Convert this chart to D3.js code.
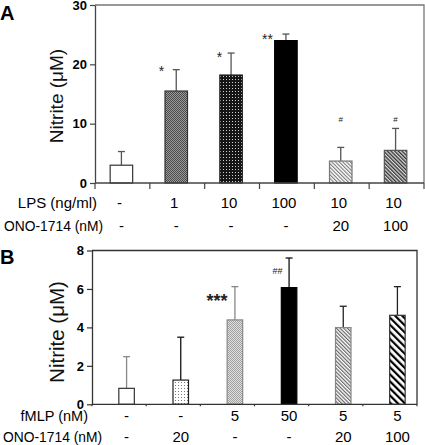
<!DOCTYPE html>
<html><head><meta charset="utf-8">
<script src="https://cdn.jsdelivr.net/npm/d3@7"></script>
<style>body{margin:0;background:#fff}svg{display:block;font-family:Arial,"Liberation Sans",sans-serif}</style>
</head><body><svg id="c" width="425" height="445"></svg>
<script>
// ---- Data ----
const lpsLabels = ["-", "1", "10", "100", "10", "10"];
const onoLabelsA = ["-", "-", "-", "-", "20", "100"];
const nitriteA = [3.0, 15.5, 18.2, 24.0, 3.7, 5.5];
const errorA = [2.3, 3.6, 3.7, 1.1, 2.3, 3.7];
const sigA = ["", "*", "*", "**", "#", "#"];
const ticksA = [0, 10, 20, 30];

const fmlpLabels = ["-", "-", "5", "50", "5", "5"];
const onoLabelsB = ["-", "20", "-", "-", "20", "100"];
const nitriteB = [0.83, 1.26, 4.39, 6.07, 3.99, 4.63];
const errorB = [1.65, 2.23, 1.73, 1.54, 1.11, 1.49];
const sigB = ["", "", "***", "##", "", ""];
const ticksB = [0, 2, 4, 6, 8];

const svg = d3.select("#c");
const defs = svg.append("defs");

function checker(id, bg, fg, size) {
  const p = defs.append("pattern").attr("id", id).attr("patternUnits", "userSpaceOnUse")
    .attr("width", size * 2).attr("height", size * 2);
  p.append("rect").attr("width", size * 2).attr("height", size * 2).attr("fill", bg);
  p.append("rect").attr("width", size).attr("height", size).attr("fill", fg);
  p.append("rect").attr("x", size).attr("y", size).attr("width", size).attr("height", size).attr("fill", fg);
}
function dots(id, bg, fg, step) {
  const p = defs.append("pattern").attr("id", id).attr("patternUnits", "userSpaceOnUse")
    .attr("width", step).attr("height", step);
  p.append("rect").attr("width", step).attr("height", step).attr("fill", bg);
  p.append("rect").attr("x", 1).attr("y", 1).attr("width", 1).attr("height", 1).attr("fill", fg);
}
function hatch(id, bg, fg, step, lw) {
  const p = defs.append("pattern").attr("id", id).attr("patternUnits", "userSpaceOnUse")
    .attr("width", step).attr("height", step).attr("patternTransform", "rotate(-45)");
  p.append("rect").attr("width", step).attr("height", step).attr("fill", bg);
  p.append("rect").attr("width", lw).attr("height", step).attr("fill", fg);
}
checker("pA2", "#9a9a9a", "#4a4a4a", 1);
dots("pA3", "#151515", "#d0d0d0", 3);
hatch("pA5", "#ffffff", "#777", 2.6, 1.1);
hatch("pA6", "#d8d8d8", "#333", 2.6, 1.3);
dots("pB2", "#ffffff", "#777", 3);
checker("pB3", "#e0e0e0", "#a0a0a0", 1);
hatch("pB5", "#ffffff", "#666", 2.6, 1.2);
hatch("pB6", "#ffffff", "#000", 5, 2.2);

const fillsA = ["#fff", "url(#pA2)", "url(#pA3)", "#000", "url(#pA5)", "url(#pA6)"];
const strokeA = ["#333", "#333", "#222", "#000", "#777", "#555"];
const fillsB = ["#fff", "url(#pB2)", "url(#pB3)", "#000", "url(#pB5)", "url(#pB6)"];
const strokeB = ["#333", "#222", "#888", "#000", "#888", "#333"];
const errColA = ["#555", "#555", "#555", "#555", "#555", "#555"];
const errColB = ["#888", "#111", "#888", "#111", "#222", "#222"];

function panel(o) {
  const g = svg.append("g");
  const x = d3.scaleBand().domain(d3.range(o.vals.length)).range([o.left, o.right]).padding(0);
  const y = d3.scaleLinear().domain([0, o.ymax]).range([o.bottom, o.top]);
  const cx = i => x(i) + x.bandwidth() / 2 + o.off;

  // frame
  g.append("path").attr("d", `M${o.left},${o.top}H${o.right}V${o.bottom}`)
    .attr("fill", "none").attr("stroke", o.frameCol).attr("stroke-width", 1.3);

  // error bars
  const eb = g.selectAll(".eb").data(o.vals).enter().append("g");
  eb.append("line").attr("x1", (d, i) => cx(i)).attr("x2", (d, i) => cx(i))
    .attr("y1", d => y(d)).attr("y2", (d, i) => y(d + o.errs[i]))
    .attr("stroke", (d, i) => o.errCol[i]).attr("stroke-width", 1.3);
  eb.append("line").attr("x1", (d, i) => cx(i) - o.cap).attr("x2", (d, i) => cx(i) + o.cap)
    .attr("y1", (d, i) => y(d + o.errs[i])).attr("y2", (d, i) => y(d + o.errs[i]))
    .attr("stroke", (d, i) => o.errCol[i]).attr("stroke-width", 1.3);

  // bars
  g.selectAll(".bar").data(o.vals).enter().append("rect")
    .attr("x", (d, i) => cx(i) - o.bw / 2).attr("width", o.bw)
    .attr("y", d => y(d)).attr("height", d => y(0) - y(d))
    .attr("fill", (d, i) => o.fills[i]).attr("stroke", (d, i) => o.strokes[i]).attr("stroke-width", 1.2);

  // y axis
  const ya = g.append("g").attr("transform", `translate(${o.left},0)`)
    .call(d3.axisLeft(y).tickValues(o.ticks).tickSize(5).tickSizeOuter(0).tickPadding(3));
  ya.select(".domain").attr("stroke", o.axisCol).attr("stroke-width", 1.3);
  ya.selectAll(".tick line").attr("stroke", o.axisCol).attr("stroke-width", 1.2);
  ya.selectAll(".tick text").attr("font-size", 13).attr("font-weight", "bold").attr("fill", "#000")
    .attr("font-family", "Arial, 'Liberation Sans', sans-serif");

  // x axis with boundary ticks
  const xa = g.append("g");
  xa.append("line").attr("x1", o.left).attr("x2", o.right).attr("y1", o.bottom).attr("y2", o.bottom)
    .attr("stroke", o.axisCol).attr("stroke-width", 1.3);
  const bounds = d3.range(o.vals.length + 1).map(i => o.left + i * x.step());
  xa.selectAll(".xt").data(bounds).enter().append("line")
    .attr("x1", d => d).attr("x2", d => d).attr("y1", o.bottom).attr("y2", o.bottom + o.xtick)
    .attr("stroke", o.axisCol).attr("stroke-width", 1.2);

  // significance marks
  o.sig.forEach((s, i) => {
    if (!s) return;
    const st = o.sigStyle[i];
    g.append("text").attr("x", cx(i) + st.dx).attr("y", y(o.vals[i] + o.errs[i]) + st.dy)
      .attr("text-anchor", st.anchor).attr("font-size", st.size).attr("font-weight", st.weight || "normal")
      .attr("fill", "#222").text(s);
  });

  // y label
  g.append("text").attr("transform", `translate(${o.ylabX},${o.ylabY}) rotate(-90)`)
    .attr("text-anchor", "middle").attr("font-size", o.ylabSize).attr("fill", "#111")
    .text("Nitrite (\u03bcM)");

  // panel letter
  g.append("text").attr("x", 0).attr("y", o.letterY).attr("font-size", 20).attr("font-weight", "bold")
    .attr("fill", "#000").text(o.letter);

  // category rows
  o.rows.forEach(r => {
    g.append("text").attr("x", r.titleX).attr("y", r.y).attr("text-anchor", "end")
      .attr("font-size", r.titleSize || r.size).attr("fill", "#000").text(r.title);
    r.labels.forEach((l, i) => {
      g.append("text").attr("x", cx(i) + r.dx).attr("y", r.y).attr("text-anchor", "middle")
        .attr("font-size", r.size).attr("fill", "#000").text(l);
    });
  });
}

panel({
  vals: nitriteA, errs: errorA, sig: sigA, ticks: ticksA, ymax: 30,
  left: 95, right: 424, top: 5, bottom: 183, off: -1, bw: 22.5, cap: 3.5, xtick: 6,
  fills: fillsA, strokes: strokeA, errCol: errColA, frameCol: "#777", axisCol: "#444",
  sigStyle: [null, {dx: -12, dy: 6, anchor: "end", size: 14},
             {dx: -11.5, dy: 9, anchor: "middle", size: 14},
             {dx: -13, dy: 10, anchor: "end", size: 14},
             {dx: 0, dy: -25, anchor: "middle", size: 8},
             {dx: 0, dy: -6, anchor: "middle", size: 8}],
  ylabX: 63, ylabY: 96, ylabSize: 19, letter: "A", letterY: 19.5,
  rows: [{title: "LPS (ng/ml)", titleX: 97, y: 208, size: 15, labels: lpsLabels, dx: -2},
         {title: "ONO-1714 (nM)", titleX: 103, y: 231, size: 15, titleSize: 13.8, labels: onoLabelsA, dx: 0}]
});

panel({
  vals: nitriteB, errs: errorB, sig: sigB, ticks: ticksB, ymax: 8,
  left: 92, right: 417, top: 250.5, bottom: 404.3, off: 7.5, bw: 15.5, cap: 3.5, xtick: 2,
  fills: fillsB, strokes: strokeB, errCol: errColB, frameCol: "#333", axisCol: "#333",
  sigStyle: [null, null, {dx: -7.5, dy: 20, anchor: "end", size: 18, weight: "bold"},
             {dx: -6.5, dy: 16, anchor: "end", size: 9}, null, null],
  ylabX: 64, ylabY: 332, ylabSize: 20.5, letter: "B", letterY: 263.5,
  rows: [{title: "fMLP (nM)", titleX: 88, y: 421, size: 15, titleSize: 14.5, labels: fmlpLabels, dx: 0},
         {title: "ONO-1714 (nM)", titleX: 102, y: 442, size: 15, titleSize: 13.8, labels: onoLabelsB, dx: 0}]
});
</script></body></html>
